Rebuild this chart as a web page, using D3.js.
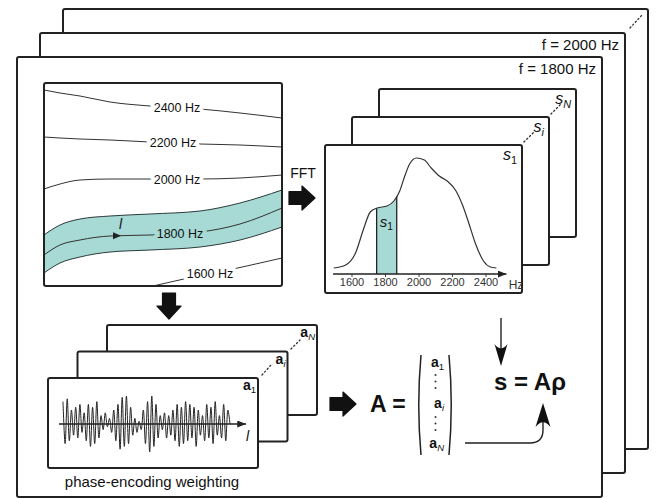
<!DOCTYPE html>
<html>
<head>
<meta charset="utf-8">
<script src="https://cdn.jsdelivr.net/npm/d3@7"></script>
<style>
body { margin: 0; background: #fff; }
svg { display: block; font-family: "Liberation Sans", Arial, Helvetica, sans-serif; }
</style>
</head>
<body>
<svg id="chart" width="656" height="498"></svg>
<script>

var frameLabels = ["f = 1800 Hz", "f = 2000 Hz"];

// contour field, box units (x 0..238, y 0..203)
var fieldX      = [0, 16, 36, 66, 106, 156, 196, 238];
var contour2400 = [7, 10, 13, 19, 23, 26, 30, 35];
var contour2200 = [54, 55, 56, 57, 59, 61, 62, 64];
var contour2000 = [106, 101, 97, 96, 96, 96, 95, 92];
var bandUpper   = [152, 142, 136, 133, 131, 128, 120, 107];
var contour1800 = [172, 162, 157, 153, 152, 149, 141, 125];
var bandLower   = [190, 180, 174, 169, 167, 164, 157, 144];
var contour1600X = [109, 131, 163, 189, 216, 238];
var contour1600  = [203, 198, 191, 186, 180, 175];
var contourNames = ["2400 Hz", "2200 Hz", "2000 Hz", "1800 Hz", "1600 Hz"];
var contourLabelX = [133, 129, 133, 136, 166];

// spectrum s1
var specHz  = [1494, 1565, 1624, 1670, 1712, 1753, 1812, 1853, 1888, 1918, 1947, 1988, 2035, 2076, 2124, 2171, 2224, 2265, 2300, 2341, 2388, 2429, 2465];
var specAmp = [6, 9, 21, 44, 62, 66, 68, 73, 83, 98, 110, 116, 114, 106, 98, 93, 83, 68, 51, 30, 13, 7, 6];
var freqTicks = [1600, 1800, 2000, 2200, 2400];
var bandHz = [1750, 1870];
var stackSubs = ["1", "i", "N"];

// phase-encoding weighting a1 (alternating peaks)
var wave = [0.8, -0.7, 0.9, -0.6, 0.5, -0.4, 0.6, -0.5, 0.7, -0.3,
            0.4, -0.6, 0.7, -0.8, 0.6, -0.7, 0.8, -0.5, 0.3, -0.2,
            0.4, -0.1, 0.2, -0.3, 0.5, -0.6, 0.7, -0.9, 0.95, -0.8,
            1.0, -0.7, 0.6, -0.4, 0.2, -0.3, 0.1, -0.2, 0.5, -0.7,
            0.8, -1.0, 1.0, -0.8, 0.7, -0.5, 0.3, -0.2, 0.4, -0.5,
            0.3, -0.4, 0.5, -0.6, 0.7, -0.8, 0.6, -0.7, 0.8, -0.6,
            0.7, -0.5, 0.6, -0.8, 0.5, -0.4, 0.3, -0.6, 0.7, -0.5,
            0.6, -0.7, 0.8, -0.4, 0.3, -0.5, 0.7, -0.6, 0.5, 0.0];

var svg = d3.select("#chart");
var ink = "#222";
var teal = "#a7d9d5";

var defs = svg.append("defs");
defs.append("marker")
    .attr("id", "tip")
    .attr("viewBox", "0 0 10 8")
    .attr("refX", 10).attr("refY", 4)
    .attr("markerWidth", 9).attr("markerHeight", 7)
    .attr("markerUnits", "userSpaceOnUse")
    .attr("orient", "auto")
    .append("path").attr("d", "M0,0L10,4L0,8Z").attr("fill", ink);

function stack(x, y, w, h, dx, dy, n) {
    var g = svg.append("g");
    d3.range(n - 1, -1, -1).forEach(function(i) {
        g.append("rect")
            .attr("x", x + i * dx).attr("y", y + i * dy)
            .attr("width", w).attr("height", h)
            .attr("rx", 2)
            .attr("fill", "#fff").attr("stroke", ink).attr("stroke-width", 2);
    });
    return g;
}

function dots(x1, y1, x2, y2) {
    svg.append("line")
        .attr("x1", x1).attr("y1", y1).attr("x2", x2).attr("y2", y2)
        .attr("stroke", "#333").attr("stroke-width", 1.3)
        .attr("stroke-dasharray", "1.3,2.6").attr("stroke-linecap", "round");
}

function blockArrow(cx, cy, angle) {
    svg.append("path")
        .attr("d", "M-13,-6.5L0,-6.5L0,-12L13,0L0,12L0,6.5L-13,6.5Z")
        .attr("transform", "translate(" + cx + "," + cy + ") rotate(" + angle + ")")
        .attr("fill", "#111").attr("stroke", "#111").attr("stroke-width", 1.2)
        .attr("stroke-linejoin", "round");
}

function sharpHead(x, y, angle, w, len) {
    svg.append("path")
        .attr("d", "M0,0L" + (-len) + "," + (-w / 2) + "Q" + (-len * 0.6) + ",0 " + (-len) + "," + (w / 2) + "Z")
        .attr("transform", "translate(" + x + "," + y + ") rotate(" + angle + ")")
        .attr("fill", "#111");
}

function yAt(xs, ys, x) {
    var i = Math.max(1, Math.min(xs.length - 1, d3.bisectRight(xs, x)));
    var t = (x - xs[i - 1]) / (xs[i] - xs[i - 1]);
    return ys[i - 1] + t * (ys[i] - ys[i - 1]);
}

function subLabel(x, y, base, sub, opts) {
    var t = svg.append("text")
        .attr("x", x).attr("y", y)
        .attr("text-anchor", "end")
        .attr("fill", "#111");
    t.append("tspan").text(base)
        .attr("font-size", opts.size)
        .attr("font-weight", opts.bold ? "bold" : "normal")
        .attr("font-style", opts.italic ? "italic" : "normal");
    t.append("tspan").text(sub)
        .attr("font-size", opts.size * 0.68)
        .attr("dy", opts.size * 0.22)
        .attr("font-style", sub === "1" ? "normal" : "italic");
    return t;
}

// ---- big frames
stack(17, 57, 585, 440, 23, -24, 3);
frameLabels.forEach(function(lab, i) {
    svg.append("text").text(lab)
        .attr("x", 596 + i * 23).attr("y", 74 - i * 24)
        .attr("text-anchor", "end")
        .attr("font-size", 15).attr("fill", "#111");
});
dots(630, 28, 642, 15);

// ---- contour map
var fx = d3.scaleLinear().domain([0, 238]).range([44, 282]);
var fy = d3.scaleLinear().domain([0, 203]).range([83, 286]);

defs.append("clipPath").attr("id", "boxclip")
    .append("rect").attr("x", 44).attr("y", 83).attr("width", 238).attr("height", 203);

var field = svg.append("g").attr("clip-path", "url(#boxclip)");

var bandArea = d3.area()
    .x(function(d, i) { return fx(fieldX[i]); })
    .y0(function(d, i) { return fy(bandLower[i]); })
    .y1(function(d, i) { return fy(bandUpper[i]); })
    .curve(d3.curveMonotoneX);
field.append("path").datum(fieldX).attr("d", bandArea).attr("fill", teal);

var contourLine = d3.line()
    .x(function(d) { return fx(d[0]); })
    .y(function(d) { return fy(d[1]); })
    .curve(d3.curveMonotoneX);

var lines = [contour2400, contour2200, contour2000, contour1800];
lines.forEach(function(ys) {
    field.append("path")
        .datum(fieldX.map(function(x, i) { return [x, ys[i]]; }))
        .attr("d", contourLine)
        .attr("fill", "none").attr("stroke", "#333").attr("stroke-width", 1);
});
[bandUpper, bandLower].forEach(function(ys) {
    field.append("path")
        .datum(fieldX.map(function(x, i) { return [x, ys[i]]; }))
        .attr("d", contourLine)
        .attr("fill", "none").attr("stroke", "#2b3b3b").attr("stroke-width", 1);
});
field.append("path")
    .datum(contour1600X.map(function(x, i) { return [x, contour1600[i]]; }))
    .attr("d", contourLine)
    .attr("fill", "none").attr("stroke", "#333").attr("stroke-width", 1);

var allY = [contour2400, contour2200, contour2000, contour1800];
contourNames.forEach(function(name, i) {
    var lx = contourLabelX[i];
    var ly = i < 4 ? yAt(fieldX, allY[i], lx) : yAt(contour1600X, contour1600, lx);
    field.append("text").text(name)
        .attr("x", fx(lx)).attr("y", fy(ly))
        .attr("dy", "0.36em")
        .attr("text-anchor", "middle")
        .attr("font-size", 12.5)
        .attr("fill", "#111")
        .attr("stroke", i === 3 ? teal : "#fff")
        .attr("stroke-width", 8)
        .attr("stroke-linejoin", "round")
        .attr("paint-order", "stroke");
});

// path direction arrow on the 1800 Hz line
var arrowX = 77;
var arrowY = fy(yAt(fieldX, contour1800, arrowX));
svg.append("path")
    .attr("d", "M" + (fx(arrowX) - 8) + "," + (arrowY - 3.5) + "L" + fx(arrowX) + "," + arrowY + "L" + (fx(arrowX) - 8) + "," + (arrowY + 3.5) + "Z")
    .attr("fill", ink);
svg.append("text").text("l")
    .attr("x", fx(arrowX) - 2).attr("y", arrowY - 7)
    .attr("font-size", 14).attr("font-style", "italic").attr("fill", "#111");

svg.append("rect")
    .attr("x", 44).attr("y", 83).attr("width", 238).attr("height", 203)
    .attr("rx", 2).attr("fill", "none").attr("stroke", ink).attr("stroke-width", 2);

// ---- FFT
svg.append("text").text("FFT")
    .attr("x", 303).attr("y", 178)
    .attr("text-anchor", "middle").attr("font-size", 14).attr("fill", "#111");
blockArrow(302, 198, 0);

// ---- spectrum stack
stack(325, 145, 197, 148, 27, -28, 3);
stackSubs.forEach(function(sub, i) {
    subLabel(517 + i * 27, 160 - i * 28, "s", sub, { size: 16, italic: true });
});
dots(524, 142, 534, 132);
dots(551, 114, 561, 104);

var sx = d3.scaleLinear().domain([1600, 2400]).range([351.5, 485.5]);
var sy = d3.scaleLinear().domain([0, 117]).range([274, 157]);

var specLine = d3.line()
    .x(function(d, i) { return sx(specHz[i]); })
    .y(function(d) { return sy(d); })
    .curve(d3.curveMonotoneX);
var specArea = d3.area()
    .x(function(d, i) { return sx(specHz[i]); })
    .y0(sy(0))
    .y1(function(d) { return sy(d); })
    .curve(d3.curveMonotoneX);

defs.append("clipPath").attr("id", "bandclip")
    .append("rect")
    .attr("x", sx(bandHz[0])).attr("y", 140)
    .attr("width", sx(bandHz[1]) - sx(bandHz[0])).attr("height", 140);

svg.append("path").datum(specAmp)
    .attr("d", specArea)
    .attr("clip-path", "url(#bandclip)")
    .attr("fill", teal);
bandHz.forEach(function(hz) {
    svg.append("line")
        .attr("x1", sx(hz)).attr("x2", sx(hz))
        .attr("y1", sy(0)).attr("y2", sy(yAt(specHz, specAmp, hz)))
        .attr("stroke", ink).attr("stroke-width", 1.3);
});
svg.append("path").datum(specAmp)
    .attr("d", specLine)
    .attr("fill", "none").attr("stroke", "#333").attr("stroke-width", 1.2);

var specAxis = svg.append("g")
    .attr("transform", "translate(0," + sy(0) + ")")
    .call(d3.axisBottom(sx).tickValues(freqTicks).tickFormat(d3.format("d"))
        .tickSize(3).tickPadding(1.5));
specAxis.select(".domain").remove();
specAxis.selectAll("line").attr("stroke", "#444");
specAxis.selectAll("text").attr("font-size", 11).attr("fill", "#333")
    .attr("font-family", "Liberation Sans, Arial, sans-serif");
svg.append("line")
    .attr("x1", sx(1490)).attr("x2", sx(2525))
    .attr("y1", sy(0)).attr("y2", sy(0))
    .attr("stroke", ink).attr("stroke-width", 1.3)
    .attr("marker-end", "url(#tip)");
svg.append("text").text("Hz")
    .attr("x", 516).attr("y", 289)
    .attr("text-anchor", "middle").attr("font-size", 12).attr("fill", "#333");
subLabel(393, 227, "s", "1", { size: 15, italic: true });

// ---- down arrow to phase-encoding
blockArrow(169, 306, 90);

// ---- phase-encoding stack
stack(48, 378, 210, 90, 29.5, -26.5, 3);
stackSubs.forEach(function(sub, i) {
    subLabel(256 + i * 29.5, 390 - i * 26.5, "a", sub, { size: 14, bold: true });
});
dots(262, 375, 271, 365);
dots(291, 349, 300, 340);

var wx = d3.scaleLinear().domain([0, wave.length - 1]).range([63, 230]);
var wy = d3.scaleLinear().domain([-1, 1]).range([452, 396]);
svg.append("path").datum(wave)
    .attr("d", d3.line()
        .x(function(d, i) { return wx(i); })
        .y(function(d) { return wy(d); })
        .curve(d3.curveCatmullRom))
    .attr("fill", "none").attr("stroke", "#222").attr("stroke-width", 1);
svg.append("line")
    .attr("x1", 59).attr("x2", 246)
    .attr("y1", wy(0)).attr("y2", wy(0))
    .attr("stroke", ink).attr("stroke-width", 1.3)
    .attr("marker-end", "url(#tip)");
svg.append("text").text("l")
    .attr("x", 246).attr("y", 441)
    .attr("font-size", 14).attr("font-style", "italic").attr("fill", "#111");
svg.append("text").text("phase-encoding weighting")
    .attr("x", 152).attr("y", 487)
    .attr("text-anchor", "middle").attr("font-size", 15).attr("fill", "#111");

// ---- matrix A
blockArrow(343, 404, 0);
svg.append("text").text("A =")
    .attr("x", 370).attr("y", 412)
    .attr("font-size", 23).attr("font-weight", "bold").attr("fill", "#111");
svg.append("path").attr("d", "M421,355Q416.5,405 421,455")
    .attr("fill", "none").attr("stroke", ink).attr("stroke-width", 1.5);
svg.append("path").attr("d", "M449,355Q453.5,405 449,455")
    .attr("fill", "none").attr("stroke", ink).attr("stroke-width", 1.5);
var rowY = [367, 408, 448];
stackSubs.forEach(function(sub, i) {
    subLabel(444, rowY[i], "a", sub, { size: 14, bold: true });
});
[375, 381.5, 388, 417, 423.5, 430].forEach(function(y) {
    svg.append("circle").attr("cx", 435.5).attr("cy", y).attr("r", 1).attr("fill", "#333");
});

// ---- s = A rho
svg.append("text").text("s = Aρ")
    .attr("x", 494).attr("y", 390)
    .attr("font-size", 24).attr("font-weight", "bold").attr("fill", "#111");
svg.append("line")
    .attr("x1", 501).attr("x2", 501).attr("y1", 318).attr("y2", 350)
    .attr("stroke", ink).attr("stroke-width", 1.4);
sharpHead(501, 366, 90, 13, 22);
svg.append("path")
    .attr("d", "M465,443L530,443Q543,443 543,430L543,422")
    .attr("fill", "none").attr("stroke", ink).attr("stroke-width", 1.4);
sharpHead(543, 403, -90, 15, 24);

</script>
</body>
</html>
